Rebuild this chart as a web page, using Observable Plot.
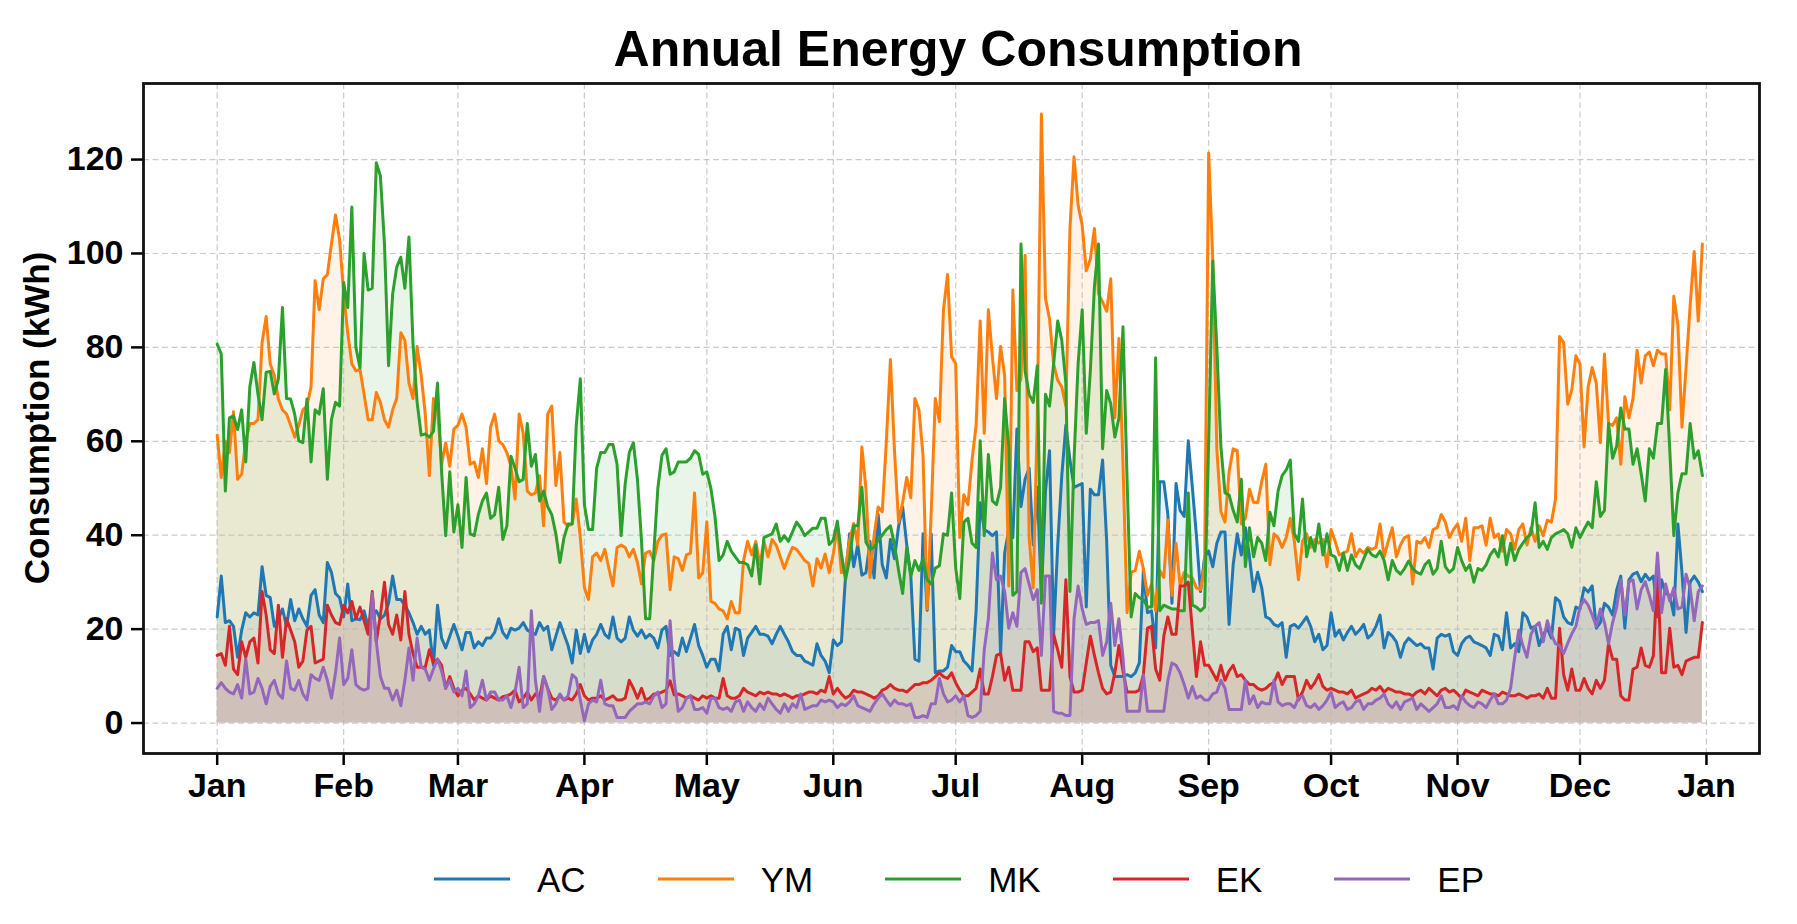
<!DOCTYPE html>
<html>
<head>
<meta charset="utf-8">
<script src="https://cdn.jsdelivr.net/npm/d3@7"></script>
<script src="https://cdn.jsdelivr.net/npm/@observablehq/plot@0.6"></script>
<style>
  html, body { margin: 0; padding: 0; background: #fff; }
  #wrap { position: relative; width: 1797px; height: 924px; overflow: hidden;
          font-family: "Liberation Sans", Arial, Helvetica, sans-serif; color: #000; }
  #chart { position: absolute; left: 0; top: 0; }
  #title { position: absolute; left: 958px; top: 24px; transform: translateX(-50%);
           font-size: 50px; font-weight: bold; line-height: 1; white-space: nowrap; }
  #ylabel { position: absolute; left: 36px; top: 418px; transform: translate(-50%, -50%) rotate(-90deg);
            font-size: 35px; font-weight: bold; line-height: 1; white-space: nowrap; }
  #legend { position: absolute; left: 434px; top: 879px; transform: translateY(-50%);
            display: flex; align-items: center; gap: 72px; }
  .item { display: flex; align-items: center; gap: 27px; }
  .swatch { width: 76px; height: 3px; }
  .label { font-size: 35px; line-height: 1; }
</style>
</head>
<body>
<div id="wrap">
  <div id="chart"></div>
  <div id="title">Annual Energy Consumption</div>
  <div id="ylabel">Consumption (kWh)</div>
  <div id="legend"></div>
</div>
<script>
// Daily consumption (kWh), 1 Jan – 31 Dec, one value per day.
const AC = [
  22.6,31.3,21.4,21.8,20.6,14,19.8,23.5,22.6,23.5,23,33.3,27.2,26.7,20.6,22.2,24.3,20.6,26.3,21.8,24.3,22.2,20.6,27.2,28.4,23,21.4,34.2,32.1,27.6,26.7,22.6,29.6,21.8,22.2,22,
  23.9,20.6,23,23.9,22.2,23,25.5,31.3,26.3,26.3,25.1,23.5,21.4,18.9,20.6,18.9,19.8,12.3,25.1,18.1,16,18.5,21,18.5,15.6,19.3,19.3,16,17.3,16.5,18.1,18.1,19.3,22.2,19.3,18.1,
  20.2,19.8,20.2,21.4,19.8,19.3,18.9,21.4,19.8,20.6,15.6,18.5,21.4,18.9,16.5,12.8,19.8,14.8,18.9,15.2,17.7,18.9,21,18.9,18.1,22.6,18.1,17.3,18.1,22.6,19.8,18.5,19.8,18.1,18.9,18.1,
  16,19.8,20.6,14.4,15.2,14.4,18.1,15.2,18.1,21,16.5,14.4,11.9,13.6,13.6,11.1,18.9,20.6,15.6,20.2,19.8,14.4,18.1,19.3,20.6,18.9,18.9,18.5,16.9,18.9,20.6,18.9,17.3,15.2,14.4,14.4,13.2,
  12.8,12.3,16.9,14.4,13.2,10.7,17.7,16.5,17.3,31.3,40.3,33.3,38,31.5,32,38.7,30.9,44.4,33.7,30.9,39.1,35,41.9,46,38,31.3,13.6,13.2,40.3,24,40.3,10.7,11.1,11.1,11.9,16.5,15.2,15.2,
  13.2,12.3,11.1,23.9,46.9,41.2,40.7,39.9,40.7,14.8,36.2,41.2,39.5,62.6,46.1,51.9,54.3,37.9,50.2,27.2,49.4,58,18.9,37.9,52.7,63.4,56,50.2,50.6,51,24.7,49.8,48.6,48.6,56,38.7,12.3,
  9.9,9.9,9.9,10.3,9.9,10.7,12.8,32.5,23.5,23.9,16,51.4,51.4,44.4,25.5,51,45.3,44,60.1,50.2,39.9,28,35.4,36.6,33.3,38.3,40.7,40.7,21,33.7,40.3,35.8,41.6,35.4,28,
  32.1,28.8,22.6,22.2,21,20.6,21.4,14,20.6,21,20.2,21.4,22.6,20.6,17.3,18.9,15.6,16.5,23.5,18.5,19.8,17.7,19.3,20.6,18.9,19.8,21,18.1,18.9,20.6,23,16,19.3,18.5,17.3,14,16.9,
  18.1,17.3,16.5,16.9,16,16,11.5,18.1,18.9,18.5,18.9,15.2,14.4,16.9,18.1,18.5,17.3,16.9,16.5,16,14.4,18.9,18.5,15.6,23.5,16,16.9,15.2,23.5,22.6,20.2,20.6,16.5,18.9,20.2,18.1,26.7,
  25.9,22.6,21.4,21,24.7,24.3,28.8,27.9,29.2,20.2,21.4,25.5,24.7,23,28.4,31.3,20.2,30.5,31.7,32.1,30.1,31.7,30.5,31.3,22.6,30.5,27.6,27.2,23,42.4,32.1,19.3,30,31.3,30,28
];
const YM = [
  61.3,52.3,60,57.6,66.3,51.9,53,60,63.8,63.8,64.6,81,86.6,76.5,74,69,66.7,65.8,63.4,60.9,63.4,66.7,67.5,71.6,94.2,88,94.6,95.5,102,108.2,103,91.4,83.1,76.5,75,
  75.3,70,64.6,64.6,70.4,68.3,64.6,63,66.7,69.1,83.1,81.5,72.4,69.1,80.2,74.1,65.8,52.7,69.1,66.7,55.1,59.7,54.7,62.6,63.4,65.8,63,55.1,55.6,52.3,58.4,51,63,65.8,60.1,59.3,
  57.6,54.7,47.7,65.8,61.7,49.4,48.6,49,52.7,42,65.8,67.5,50.6,57.6,42.8,42,42.4,47.7,39.5,28.8,26.3,35.4,36.2,34.6,37,32.9,29.2,37.4,37.9,37.4,35.4,37,34.2,29.6,36.2,36.6,34.6,
  38.7,40,40.3,28.4,35.4,35,32.5,35.8,36.2,49,30.9,32,42.8,25.9,25.5,24.3,23.9,22.2,25.9,23.5,23.5,34.6,38.7,35.8,38.7,33.7,38.7,35.4,39.1,37.9,35.4,32.9,35.4,37.4,37,35.8,34.6,
  34,29.2,35,33,36,32,36,42,32,33,39,42.5,38,58.8,50,31,40,46,45,60,77.4,58,42.8,47,52.3,48,69.1,66.7,57,24.3,45,69.1,64.2,88,95.5,78,76.5,
  39.5,48.6,46.5,56,63.4,85.6,61.7,88,78,69.1,80.2,74,29.2,92.2,70.8,73.3,99.6,39.5,28.8,65,129.7,90.5,86,76.5,73,71.6,67.5,105.3,120.6,110.3,106,96.3,98.8,105.3,91.4,89.7,
  87.7,94.6,65,81.9,55.1,23.5,32.1,32.5,36.6,32.9,27.2,29.6,23.9,32.5,31,43.2,27.2,38.3,29.2,32.1,31.3,30.9,28.8,28.4,33.7,121.4,98.8,58.4,45,42.8,53.5,58.4,58,42.4,43.6,49.8,47,
  46.9,51.4,55.1,33.7,40.3,39.5,37.4,39.5,43.6,38.7,30.5,38.7,40.3,37.4,39.1,38.3,39.1,33.3,41.2,38.7,35.8,36.2,36.6,40.3,35.4,37,36.2,37.4,37,37.4,42.4,35.4,38.7,41.6,35.4,37.9,39.5,
  39.9,29.6,38.7,38.3,39.5,37.4,41.2,41.6,44.4,42.8,39.5,41.2,42.4,38.7,43.6,34.6,41.6,41.6,42,37.9,43.6,39.5,40.3,36.6,41.2,40.3,37,41.2,42.4,37.9,41.6,38.7,42,39.9,43.2,42.8,47.7,
  82.3,81,67.9,71,78.2,76.5,58.8,71.6,75.7,72.4,59.7,78.6,63.8,63.4,65,55.1,69.5,65,69.1,79.4,72.4,78.2,79,76.1,79.4,78.6,78.6,66.7,90.9,84.8,63,75.7,88.9,100.4,85.6,102
];
const MK = [
  80.7,78.6,49.4,65,65.4,62.5,66.7,55.6,71.6,76.8,70,64.6,74.7,74.9,70.1,73.3,88.5,69.1,69,65.8,60.1,59.7,69,55.6,66.7,65.8,71.2,51.9,64.6,68.3,67.5,93.8,88.5,109.9,80,75.7,
  100,92.2,92.6,119.3,116.5,102,76.1,91.4,97.1,99.2,92.6,103.5,80.7,68.3,61.3,61.6,60.9,62.1,72.4,53.5,39.9,53.5,40.7,46.5,37.4,52.3,40.3,39.9,44.4,47.3,49,43.6,44.4,50.2,39.1,42,56.8,
  54.3,51.4,51.9,63.8,54.7,57.2,47.3,49.4,46.1,44.4,40.3,34.2,39.5,42.4,42.4,63.4,73.3,46.5,41.2,41.2,54.3,57.6,57.6,59.3,59.3,55.1,39.9,51,57.6,59.7,51.9,38.7,22.2,22.2,36.2,
  50,57,58.4,53,53.5,55.6,55.6,55.6,56.4,58,57.2,53,53.5,50,44,34.6,35.8,38.7,36.6,35.4,34.2,34.2,33.7,31.3,37.9,29.6,39.5,39.9,40.3,42.4,38.7,39.9,38.7,40.7,42.8,41.6,39.9,40.7,
  41.5,41.5,43.6,43.6,38,39,43,36,30.5,35,42,42,50.2,38.5,37,37.4,39,40,41.2,42,38,32.5,27.6,37.4,31.3,34.6,32.5,35,30.5,29.6,33,33.5,40.3,40,49,33,26.5,
  42.8,43.6,38.3,37.4,60.1,39.9,57.2,47.3,46.5,50.2,69.1,58.8,27.2,28,102,75,70,68.3,76.1,25.5,70,67.5,76.5,85.6,81.5,72.4,28,56,76.5,88,61.7,75,93,102,58.4,
  70.8,68,60.9,65,84.4,51.9,22.6,27.6,26.7,26.3,24.7,24.7,77.8,23.9,25.1,24.7,24.3,24.3,23.9,23.9,49,25.1,24.7,23.9,24.7,60,98.4,80,58.8,49,48.6,45.3,42.8,51.9,33.3,41.6,35.4,
  39.5,38.3,34.6,44.9,42,49.4,52.7,53.9,56,40.3,38.7,47.7,35.4,39.5,36.6,42.4,35.8,40.3,35.8,35.4,32.5,36.2,32.5,35.8,33.7,32.9,35,37,35.8,35.4,36.6,34.6,30.5,34.6,32.5,31.7,32.9,
  34.5,32.9,32.1,31.7,33.7,34.6,31.7,32.9,38.7,33.3,32.1,32.9,37.4,34.6,32.5,33.7,30,32.9,32.5,33.7,35.8,37,35.4,39.9,33.7,38.3,34.6,37,38.3,39.5,40.3,46.9,37.4,38.7,37,39.5,40.3,
  40.7,41.2,40.3,37.4,41.6,39.5,41.2,42.8,41.6,51.4,44,45.3,63.8,56.4,59,67.1,62.6,62.6,55.1,58.4,53.1,47.3,58.4,56.4,63.8,63.8,75.3,58.4,39.9,49,53.1,53.1,63.8,56.4,58,52.7
];
const EK = [
  14.4,14.8,12.3,20.6,11.5,10.3,17.3,14,17.3,18.1,12.8,28,23,15.6,14.8,25.1,14,22.2,19.8,17.3,11.9,13.2,19.8,20.6,12.8,13.2,13.6,25.1,23,21.4,21,25.1,23.5,25.9,22.2,24.7,
  21.8,18.9,28,17.3,23,30,21,18.9,23,17.7,28,18.9,14.8,11.9,11.9,11.9,15.6,12.8,13.6,12.3,7.4,9.9,7.4,5.8,7,7.4,6.2,4.9,5.8,5.3,4.9,5.8,5.3,4.9,5.6,5.8,6.2,
  7,4.5,5.3,6.6,4.9,6.2,5.3,9.9,7.4,5.3,4.9,5.8,4.9,5.3,4.9,6.2,8.2,5.8,4.9,5.3,5.3,5.8,4.9,5.3,5.8,4.9,4.9,5.3,9.1,7.4,5.3,7.4,4.9,5.3,6.2,
  6.2,6.6,7,9,6,6.2,5.8,5.3,5.8,5.3,4.9,5.8,5.3,5.8,5.3,5.3,9.5,5.8,5.3,5.3,5.8,7.4,6.6,6.2,5.8,6.6,6.2,6.6,6.2,6.2,5.8,6.2,5.8,5.3,5.8,5.8,6.2,
  6.6,6.6,6.2,7,6.6,9.9,6.2,7.4,6.2,5.3,5.8,7,6.6,6.6,6.2,5.8,5.3,5.8,7,7.4,8.2,7.4,7,7,6.6,7.4,8.2,8.2,8.6,8.6,9.1,9.9,10.7,9.9,9.5,10.7,8.6,7,
  5.8,5.8,6.6,7.4,11.5,6.2,6.2,9.9,14.4,14.8,9.1,11.9,7,7,7,17.3,17.3,15.2,16,7,7,7,18.9,15.6,11.9,30.5,9.9,6.6,6.6,7,12.8,18.5,14.4,10.7,7.4,6.2,6.6,
  10.7,16.5,11.1,6.6,6.6,6.6,7,10.3,20.2,20.6,11.5,9.1,18.5,22.6,18.9,18.9,29.2,29.2,30,19.8,9.9,17.3,12.3,12.3,10.7,9.1,12.3,9.1,11.1,12.3,9.9,10.3,9.1,8.2,8.2,
  7.4,7,7.4,8.2,8.6,10.7,8.2,9.9,9.9,9.9,4.9,6.6,9.1,7.4,8.6,10.3,7.8,7,7.4,7,6.6,6.6,6.2,7,5.3,5.8,6.2,6.6,7.4,7,7.8,6.6,7.4,7,6.6,6.6,6.2,
  6.2,5.8,6.6,7,6.2,7.4,6.6,5.8,7,7.4,6.6,7,6.2,5.3,7,6.6,6.2,5.8,7,6.6,6.2,6.2,5.8,6.6,6.2,5.8,5.8,6.2,5.8,5.3,5.8,5.8,6.2,5.3,7.4,5.3,5.3,
  20.2,10.3,7,11.5,7,7,9.5,7.4,6.2,9.1,7.4,9.1,16.9,13.6,13.6,5.8,4.9,4.9,11.5,11.9,16,12.3,11.9,14.4,32.9,10.7,10.7,20.2,11.9,12.3,10.3,13.2,13.6,14,14,21.4
];
const EP = [
  7.4,8.6,7.4,6.6,6.2,8.2,5.3,13.6,6.2,6.6,9.5,7.4,4.1,7.8,9.1,6.2,5.3,13.2,7.4,7,9.1,6.2,4.9,10.3,9.5,9.1,11.9,9.1,5.3,10.7,18.1,8.2,9.5,15.6,8.2,7.4,
  7,7.4,27.6,17.3,9.9,7.4,7.4,4.9,7,3.7,9.1,16,9.1,18.1,11.9,11.5,9.1,11.5,13.6,11.1,7.4,9.1,6.6,7.4,5.8,11.1,3.3,4.1,5.8,9.1,4.9,6.6,6.6,4.9,4.9,5.8,3.3,
  6.6,11.9,3.3,4.1,23.9,9.1,2.5,9.9,7.4,2.9,4.1,6.2,4.9,5.8,10.3,9.5,4.9,0.5,4.1,4.9,4.5,9.1,4.1,3.7,3.7,1.2,1.2,1.2,2.5,3.3,4.1,4.1,4.5,4.1,5.8,
  6.6,3.3,4.1,21.8,9.1,2.5,3.3,5.3,5.8,2.9,2.9,3.3,2.1,5.3,5.3,3.3,2.9,3.3,2.5,4.5,4.9,2.5,4.5,3.3,2.5,4.1,2.9,5.3,4.1,2.9,2.1,4.1,2.5,4.1,3.3,6.2,2.9,
  3.3,3.7,3.7,4.9,4.5,4.9,4.5,3.3,4.1,3.7,4.5,5.8,3.7,3.3,2.9,2.5,4.1,5.3,6.2,4.9,3.7,4.9,4.1,4.1,3.7,4.1,1.2,1.2,1.6,1.2,4.1,4.1,9.5,6.2,4.5,4.9,5.8,4.5,
  5.8,1.6,1.2,1.6,2.5,15.6,22.2,36.2,30.5,31.3,28,20.2,23.5,20.6,32.1,32.9,29.6,26.3,28.4,14.4,31.3,31.3,2.5,2.1,2.1,1.6,1.6,22.2,29.2,24.3,21,21.4,21.4,21.8,14.4,17.3,25.5,
  16.5,22.2,14,2.5,2.5,2.5,2.5,10.3,2.5,2.5,2.5,2.5,2.5,9.1,12.8,12.3,10.7,8.2,5.3,7.8,5.3,5.8,4.9,4.9,6.2,6.6,9.1,7.4,2.9,2.9,2.9,2.9,9.1,4.1,5.8,
  3.3,4.5,4.1,4.1,9.1,4.5,3.7,4.1,4.1,3.3,5.3,5.8,3.7,3.3,4.1,2.9,3.7,4.9,6.6,3.3,4.1,4.5,2.9,3.3,4.5,4.9,2.9,4.1,4.1,4.9,5.3,6.2,4.1,3.3,4.5,2.9,4.5,
  4.9,5.3,2.9,4.1,3.3,2.5,3.3,4.1,5.8,3.3,3.3,3.7,2.9,5.8,4.5,3.7,3.3,4.5,4.1,3.3,4.9,6.2,4.1,4.1,4.9,7.4,14,19.8,16.5,14,18.9,20.6,21.4,17.3,21.8,18.9,16.9,
  16.5,14.8,17,19,20.6,24.7,26.3,25.1,23,20.6,24.3,21.4,16.9,21.4,24.7,30.5,23,30.1,30.5,24.3,28.4,30.1,27.2,23.9,36.2,23.5,29.6,26,28.8,24.3,24.7,31.7,28.8,21.8,28,29.2
];

const series = ["AC", "YM", "MK", "EK", "EP"];
const colors = ["#1f77b4", "#ff7f0e", "#2ca02c", "#d62728", "#9467bd"];
const yTicks = [0, 20, 40, 60, 80, 100, 120];

const DAY = 864e5;
const t0 = Date.UTC(2023, 0, 1);
const monthTicks = d3.utcMonths(new Date(t0), new Date(Date.UTC(2024, 0, 2)));
const valuesBySeries = {AC, YM, MK, EK, EP};

const rows = AC.map((_, i) => {
  const r = {date: new Date(t0 + i * DAY)};
  for (const s of series) r[s] = valuesBySeries[s][i];
  return r;
});

const gridStyle = {stroke: "#b8b8b8", strokeOpacity: 0.75, strokeWidth: 1.2, strokeDasharray: "6,3.5"};
const font = "'Liberation Sans', Arial, Helvetica, sans-serif";

const chart = Plot.plot({
  width: 1797,
  height: 924,
  marginLeft: 143,
  marginRight: 38,
  marginTop: 83,
  marginBottom: 171,
  style: {fontFamily: font, background: "transparent", color: "#000"},
  x: {type: "utc", domain: [new Date(t0 - 18.06 * DAY), new Date(t0 + 378 * DAY)]},
  y: {domain: [-6.485, 136.2]},
  marks: [
    // translucent fills under each series
    ...series.map((s, k) => Plot.areaY(rows, {x: "date", y: s, fill: colors[k], fillOpacity: 0.1})),
    Plot.gridY(yTicks, gridStyle),
    Plot.gridX(monthTicks, gridStyle),
    ...series.map((s, k) => Plot.lineY(rows, {x: "date", y: s, stroke: colors[k], strokeWidth: 3})),
    Plot.axisX(monthTicks, {
      tickFormat: d3.utcFormat("%b"), tickSize: 12, tickPadding: 7,
      fontSize: 34, fontWeight: "bold", strokeWidth: 2.5, label: null
    }),
    Plot.axisY(yTicks, {
      tickSize: 12, tickPadding: 8,
      fontSize: 34, fontWeight: "bold", strokeWidth: 2.5, label: null
    }),
    Plot.frame({stroke: "#111", strokeWidth: 2.8})
  ]
});
document.getElementById("chart").appendChild(chart);

// legend below the plot
const legend = document.getElementById("legend");
series.forEach((s, k) => {
  const item = document.createElement("div");
  item.className = "item";
  const sw = document.createElement("span");
  sw.className = "swatch";
  sw.style.background = colors[k];
  const lab = document.createElement("span");
  lab.className = "label";
  lab.textContent = s;
  item.append(sw, lab);
  legend.append(item);
});
</script>
</body>
</html>
